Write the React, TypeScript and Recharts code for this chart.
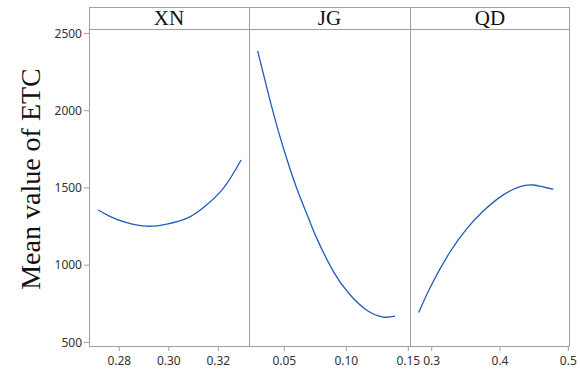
import { LineChart, Line, XAxis, YAxis } from "recharts";

// main-effect curves
const xnX = [0.2715, 0.2762, 0.283, 0.2913, 0.2992, 0.3072, 0.3139, 0.322, 0.3292];
const xnY = [1357, 1316, 1275, 1252, 1266, 1303, 1372, 1497, 1681];

const jgX = [0.0285, 0.0371, 0.0452, 0.0532, 0.0613, 0.0707, 0.0761, 0.0895, 0.103, 0.1165, 0.1298, 0.1393];
const jgY = [2387, 2110, 1868, 1658, 1470, 1280, 1175, 960, 808, 708, 664, 670];

const qdX = [0.281, 0.3, 0.3268, 0.3512, 0.3755, 0.4048, 0.4293, 0.4488, 0.478];
const qdY = [694, 875, 1085, 1235, 1350, 1455, 1508, 1519, 1491];

const yTicks = [500, 1000, 1500, 2000, 2500];
const xnTicks = [0.28, 0.3, 0.32];
const jgTicks = [0.05, 0.1, 0.15];
const qdTicks = [0.3, 0.4, 0.5];

const yDomain: [number, number] = [470, 2529];

const toRows = (xs: number[], ys: number[]) => xs.map((x, i) => ({ x, y: ys[i] }));

const GRAY = "#a0a0a0";
const BLUE = "#1f5cbd";
const tickFont = { fill: "#333", fontSize: 12, fontFamily: "Noto Sans, sans-serif" };
const serif = "Liberation Serif, Times New Roman, serif";

interface PanelProps {
  name: string;
  rows: { x: number; y: number }[];
  domain: [number, number];
  ticks: number[];
  digits: number;
  left: number;
  plotWidth: number;
  extraRight: number;
  withYAxis?: boolean;
}

function Panel({ name, rows, domain, ticks, digits, left, plotWidth, extraRight, withYAxis }: PanelProps) {
  const yw = withYAxis ? 89 : 0;
  const xTick = (p: any) => (
    <text x={p.x} y={p.y} dy={12} textAnchor="middle" {...tickFont}>
      {Number(p.payload.value).toFixed(digits)}
    </text>
  );
  return (
    <>
      <div
        style={{
          position: "absolute",
          left: left + yw,
          top: 7,
          width: plotWidth,
          height: 22,
          lineHeight: "22px",
          textAlign: "center",
          fontFamily: serif,
          fontSize: 21,
          color: "#111",
        }}>
        {name}
      </div>
      <div style={{ position: "absolute", left, top: 0 }}>
        <LineChart
          width={yw + plotWidth + extraRight}
          height={373}
          data={rows}
          margin={{ top: 29, right: extraRight, bottom: 0, left: 0 }}>
          <XAxis
            dataKey="x"
            type="number"
            domain={domain}
            ticks={ticks}
            interval={0}
            allowDataOverflow
            height={26}
            axisLine={false}
            tickLine={{ stroke: GRAY }}
            tickSize={4}
            tick={xTick}
          />
          <YAxis
            hide={!withYAxis}
            width={yw}
            type="number"
            domain={yDomain}
            ticks={yTicks}
            allowDataOverflow
            axisLine={false}
            tickLine={{ stroke: GRAY }}
            tickSize={5}
            tick={tickFont}
          />
          <Line
            type="natural"
            dataKey="y"
            stroke={BLUE}
            strokeWidth={1.3}
            dot={false}
            isAnimationActive={false}
          />
        </LineChart>
      </div>
    </>
  );
}

export default function App() {
  return (
    <div style={{ position: "relative", width: 580, height: 373, background: "#fff" }}>
      <style>{"body{margin:0}"}</style>
      <Panel name="XN" rows={toRows(xnX, xnY)} domain={[0.26776, 0.3324]} ticks={xnTicks} digits={2} left={0} plotWidth={160} extraRight={20} withYAxis />
      <Panel name="JG" rows={toRows(jgX, jgY)} domain={[0.02153, 0.15137]} ticks={jgTicks} digits={2} left={249} plotWidth={161} extraRight={20} />
      <Panel name="QD" rows={toRows(qdX, qdY)} domain={[0.26823, 0.50249]} ticks={qdTicks} digits={1} left={410} plotWidth={160} extraRight={10} />

      {/* frame: outer box, strip line, panel dividers */}
      <div style={{ position: "absolute", left: 89, top: 7, width: 481, height: 340, border: `1px solid ${GRAY}`, boxSizing: "border-box" }} />
      <div style={{ position: "absolute", left: 89, top: 29, width: 481, height: 1, background: GRAY }} />
      <div style={{ position: "absolute", left: 249, top: 7, width: 1, height: 340, background: GRAY }} />
      <div style={{ position: "absolute", left: 410, top: 7, width: 1, height: 340, background: GRAY }} />

      <div
        style={{
          position: "absolute",
          left: 31,
          top: 179,
          transform: "translate(-50%, -50%) rotate(-90deg)",
          whiteSpace: "nowrap",
          fontFamily: serif,
          fontSize: 28,
          color: "#111",
        }}>
        Mean value of ETC
      </div>
    </div>
  );
}
